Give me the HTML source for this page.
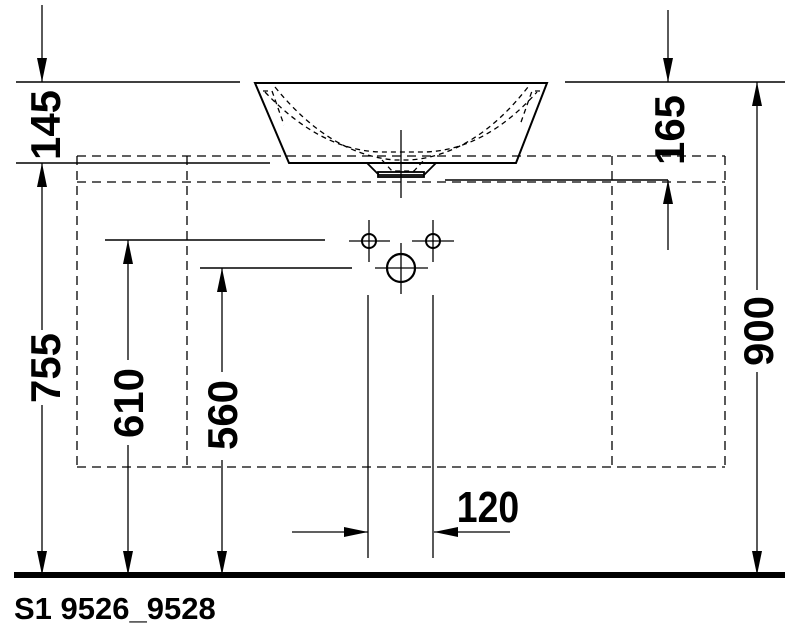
<!DOCTYPE html>
<html><head><meta charset="utf-8"><style>html,body{margin:0;padding:0;background:#fff}svg{display:block}</style></head>
<body>
<svg width="790" height="630" viewBox="0 0 790 630" xmlns="http://www.w3.org/2000/svg">
<defs>
<marker id="a" viewBox="0 0 24 10" refX="24" refY="5" markerWidth="24" markerHeight="11" markerUnits="userSpaceOnUse" orient="auto"><path d="M0,0 L24,5 L0,10 z" fill="#000"/></marker>
</defs>
<g stroke="#000" fill="none" stroke-width="1.5">
<g stroke-dasharray="9,6" stroke-width="1.3">
<line x1="77" y1="156" x2="725" y2="156"/>
<line x1="77" y1="182" x2="725" y2="182"/>
<line x1="77" y1="156" x2="77" y2="467"/>
<line x1="187" y1="156" x2="187" y2="467"/>
<line x1="612" y1="156" x2="612" y2="467"/>
<line x1="725" y1="156" x2="725" y2="467"/>
<line x1="77" y1="467" x2="725" y2="467"/>
</g>
<line x1="16" y1="82" x2="240" y2="82"/>
<line x1="565" y1="82" x2="785" y2="82"/>
<line x1="16" y1="163" x2="270" y2="163"/>
<line x1="445" y1="180" x2="668" y2="180"/>
<line x1="105" y1="240" x2="325" y2="240"/>
<line x1="200" y1="268" x2="352" y2="268"/>
<line x1="42" y1="5" x2="42" y2="82" marker-end="url(#a)" stroke-width="1.3"/>
<line x1="42" y1="330" x2="42" y2="163" marker-end="url(#a)" stroke-width="1.3"/>
<line x1="42" y1="405" x2="42" y2="575" marker-end="url(#a)" stroke-width="1.3"/>
<line x1="128" y1="360" x2="128" y2="240" marker-end="url(#a)" stroke-width="1.3"/>
<line x1="128" y1="445" x2="128" y2="575" marker-end="url(#a)" stroke-width="1.3"/>
<line x1="222" y1="372" x2="222" y2="268" marker-end="url(#a)" stroke-width="1.3"/>
<line x1="222" y1="460" x2="222" y2="575" marker-end="url(#a)" stroke-width="1.3"/>
<line x1="668" y1="10" x2="668" y2="82" marker-end="url(#a)" stroke-width="1.3"/>
<line x1="668" y1="250" x2="668" y2="180" marker-end="url(#a)" stroke-width="1.3"/>
<line x1="757" y1="290" x2="757" y2="82" marker-end="url(#a)" stroke-width="1.3"/>
<line x1="757" y1="372" x2="757" y2="575" marker-end="url(#a)" stroke-width="1.3"/>
<line x1="292" y1="532" x2="368" y2="532" marker-end="url(#a)" stroke-width="1.3"/>
<line x1="510" y1="532" x2="434" y2="532" marker-end="url(#a)" stroke-width="1.3"/>
<line x1="368" y1="295" x2="368" y2="558" stroke-width="1.3"/>
<line x1="433" y1="295" x2="433" y2="558" stroke-width="1.3"/>
<path d="M255,83 L547,83 L516,163 L289,163 Z" stroke-width="2"/>
<path d="M367,163 L379,175 L424,175 L436,163" stroke-width="1.8"/>
<rect x="378" y="172" width="46" height="5" stroke-width="1.8"/>
<g stroke-dasharray="5,4" stroke-width="1.3">
<path d="M263,91 L272,91 L284,125"/>
<path d="M540,91 L532,91 L520,125"/>
<path d="M275,87 Q330,155 395,160 L410,160 Q475,155 528,87"/>
<path d="M265,92 Q320,150 380,152 L425,152 Q485,150 537,92"/>
<path d="M382,160 L392,171 L414,171 L424,160"/>
</g>
<line x1="401" y1="130" x2="401" y2="198" stroke-width="1.3"/>
<circle cx="369" cy="241" r="7" stroke-width="2"/>
<circle cx="433" cy="241" r="7" stroke-width="2"/>
<circle cx="401" cy="268" r="14" stroke-width="2.2"/>
<g stroke-width="1.3">
<line x1="349" y1="241" x2="390" y2="241"/><line x1="369" y1="220" x2="369" y2="262"/>
<line x1="412" y1="241" x2="454" y2="241"/><line x1="433" y1="220" x2="433" y2="262"/>
<line x1="375" y1="268" x2="428" y2="268"/><line x1="401" y1="243" x2="401" y2="294"/>
</g>
</g>
<rect x="14" y="572" width="771" height="6" fill="#000"/>
<g font-family="Liberation Sans, sans-serif" font-weight="bold" font-size="42" fill="#000" text-anchor="middle">
<text transform="translate(60,125) rotate(-90)">145</text>
<text transform="translate(60,368) rotate(-90)">755</text>
<text transform="translate(143,403) rotate(-90)">610</text>
<text transform="translate(237,415) rotate(-90)">560</text>
<text transform="translate(684,130) rotate(-90)">165</text>
<text transform="translate(773,331) rotate(-90)">900</text>
<text x="488" y="522" font-size="44" transform="translate(488,522) scale(0.85,1) translate(-488,-522)">120</text>
</g>
<text x="14" y="619" font-family="Liberation Sans, sans-serif" font-weight="bold" font-size="31" fill="#000">S1 9526_9528</text>
</svg>
</body></html>
